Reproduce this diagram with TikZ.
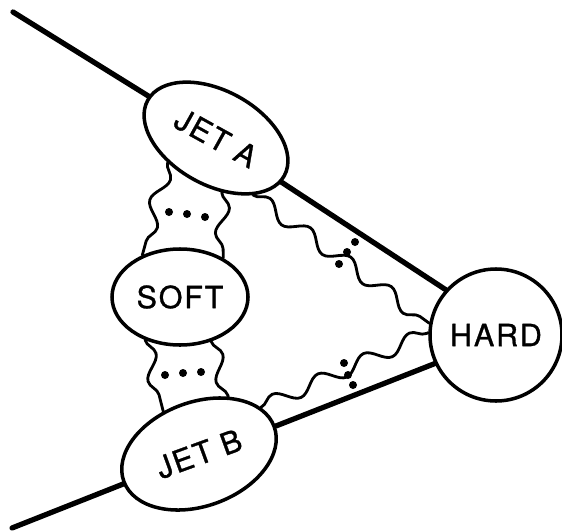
\documentclass[tikz,border=0pt]{standalone}
\usepackage{fontspec}
\setmainfont{TeX Gyre Heros}
\usetikzlibrary{shapes.geometric,decorations.pathmorphing}
\begin{document}
\begin{tikzpicture}[x=0.03cm, y=-0.03cm, line join=round, line cap=round,
	font=\fontsize{26}{30}\selectfont\addfontfeature{LetterSpace=6,FakeBold=1},
	blob/.style={ellipse, draw, line width=3pt, inner sep=0pt, fill=white},
	jet/.style={line width=4.5pt},
	gluon/.style={line width=2.4pt, decorate,
		decoration={snake, segment length=1.5cm, amplitude=0.22cm}}]
	\useasboundingbox (0,0) rectangle (562,531);
	% the four blobs
	\node[blob, rotate=-29, minimum width=4.68cm, minimum height=2.82cm] (jetA) at (216,138) {JET A};
	\node[blob, minimum width=4.08cm, minimum height=2.88cm] (soft) at (180,297) {SOFT};
	\node[blob, rotate=20, minimum width=4.8cm, minimum height=3.12cm] (jetB) at (199,454) {JET B};
	\node[blob, circle, minimum size=3.96cm] (hard) at (496,335) {HARD};
	% incoming and outgoing jet lines
	\coordinate (inA) at (13,12);
	\coordinate (inB) at (12,528);
	\draw[jet] (inA) -- (jetA);
	\draw[jet] (jetA.355) -- (hard.138);
	\draw[jet] (inB) -- (jetB);
	\draw[jet] (jetB.0) -- (hard.205);
	% soft exchanges
	\draw[gluon] (jetA.236) -- (soft.132);
	\draw[gluon] (jetA.305) -- (soft.42);
	\draw[gluon] (soft.231) -- (jetB.110);
	\draw[gluon] (soft.305) -- (jetB.43);
	\draw[gluon] (jetA.332) -- (hard.170);
	\draw[gluon] (jetB.17) -- (hard.178);
	% dots
	\foreach \p in {(169,212),(187,214),(205,217),(165,375),(183,373),(201,372),
		(355,242),(347,252),(339,264),(344,363),(348,375),(353,385)}
		\fill \p circle (0.12cm);
\end{tikzpicture}
\end{document}
